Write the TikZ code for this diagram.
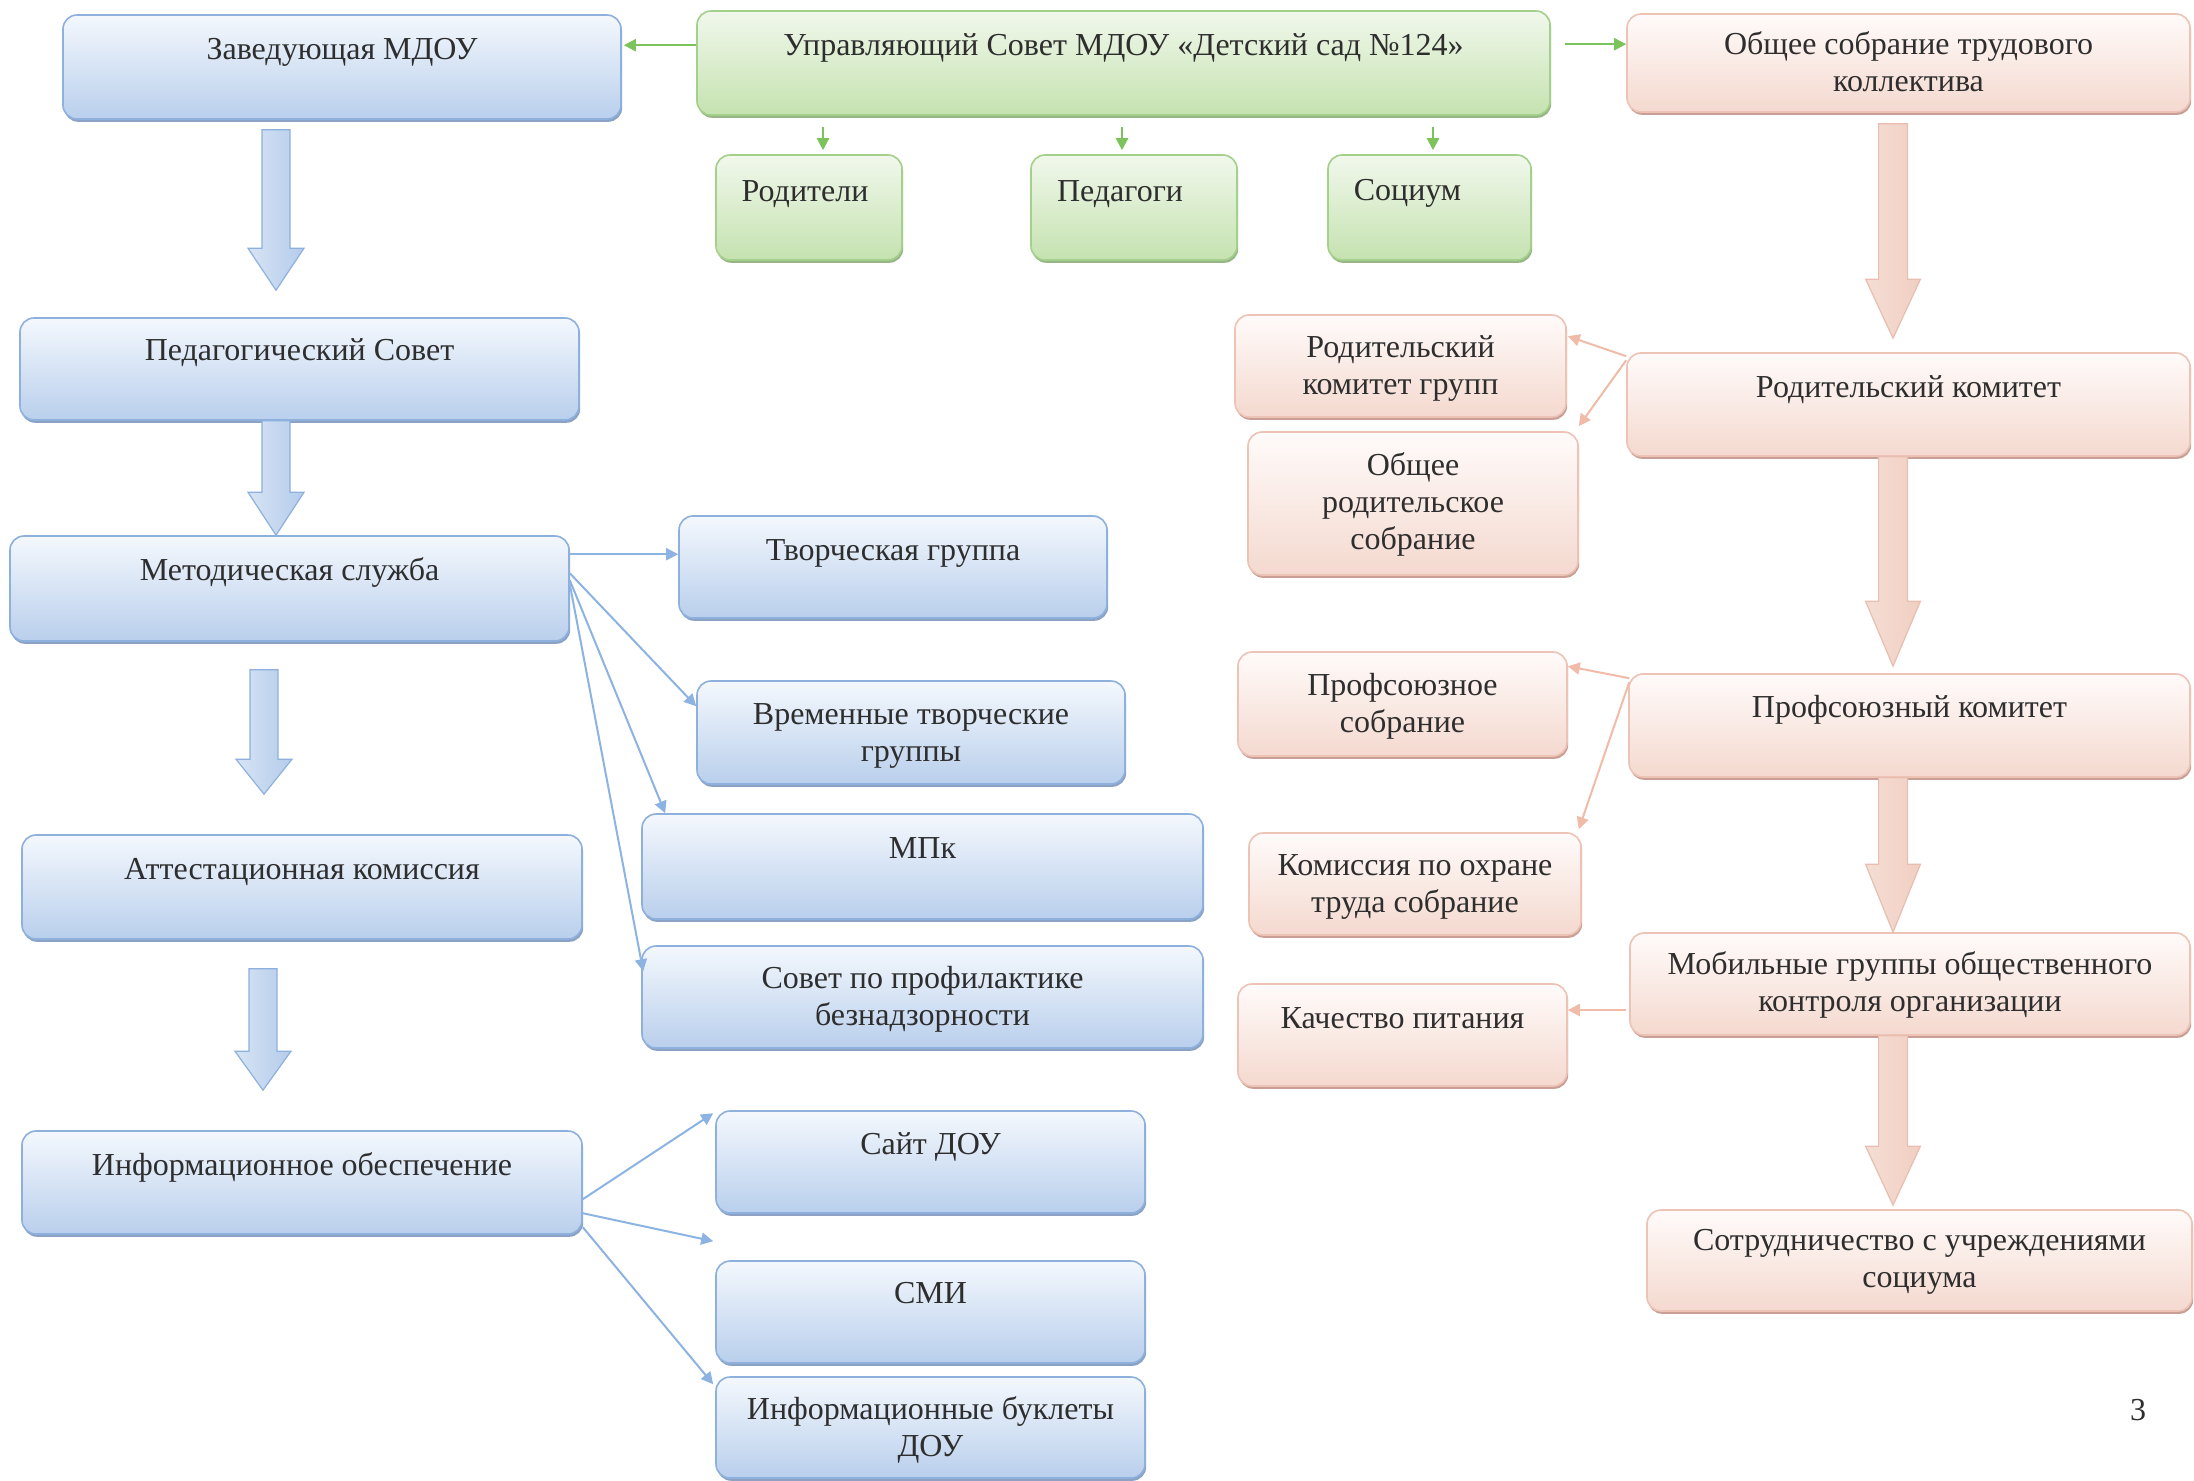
\documentclass[tikz,border=0pt]{standalone}
\usepackage{fontspec}
\setmainfont{Liberation Serif}
\usetikzlibrary{arrows.meta,calc,shadows}
\definecolor{txt}{HTML}{2E2E2E}
\definecolor{bT}{HTML}{F4F8FD}
\definecolor{bB}{HTML}{B9CFEC}
\definecolor{bD}{HTML}{8DB0DD}
\definecolor{bS}{HTML}{7F98BE}
\definecolor{bA}{HTML}{8DB3E2}
\definecolor{gT}{HTML}{F1F8EC}
\definecolor{gB}{HTML}{C5E2B0}
\definecolor{gD}{HTML}{A3D08A}
\definecolor{gS}{HTML}{8DAE7A}
\definecolor{gA}{HTML}{7DC35B}
\definecolor{pT}{HTML}{FFFBFA}
\definecolor{pB}{HTML}{F4D9CF}
\definecolor{pD}{HTML}{ECC3B4}
\definecolor{pS}{HTML}{C4948A}
\definecolor{pA}{HTML}{F0BCA9}
\definecolor{pL}{HTML}{F5DDD4}
\definecolor{pM}{HTML}{FFFAF8}
\definecolor{pR}{HTML}{F1CFC2}
\newcommand{\tx}[1]{\begin{tabular}[t]{@{}c@{}}#1\end{tabular}}
\newcommand{\blk}[6]{\path[#1] let \p1=(#2), \p2=(#3) in (\x1-#4,\y1) -- (\x1+#4,\y1) -- (\x1+#4,\y2+#6) -- (\x1+#5,\y2+#6) -- (\x1,\y2) -- (\x1-#5,\y2+#6) -- (\x1-#4,\y2+#6) -- cycle;}
\begin{document}
\begin{tikzpicture}[x=0.5pt,y=-0.5pt,
 box/.style={rounded corners=7pt, inner sep=0pt, line width=0.8pt, text=txt, text height=12pt, font=\fontsize{16}{18.5}\selectfont},
 bx/.style n args={3}{minimum width=#1*0.5pt, minimum height=#2*0.5pt, text depth=#3pt},
 bluebox/.style={box, draw=bD, top color=bT, bottom color=bB, drop shadow={shadow xshift=0.6pt, shadow yshift=-1.4pt, fill=bS, opacity=0.9}},
 greenbox/.style={box, draw=gD, top color=gT, bottom color=gB, drop shadow={shadow xshift=0.6pt, shadow yshift=-1.4pt, fill=gS, opacity=0.9}},
 pinkbox/.style={box, draw=pD, top color=pT, bottom color=pB, drop shadow={shadow xshift=0.6pt, shadow yshift=-1.4pt, fill=pS, opacity=0.9}},
 barr/.style={draw=bA, line width=1pt, -{Triangle[length=6pt,width=6pt]}},
 garr/.style={draw=gA, line width=1.1pt, -{Triangle[length=6pt,width=6pt]}},
 parr/.style={draw=pA, line width=1pt, -{Triangle[length=6pt,width=6pt]}},
 bblk/.style={draw=bD, line width=0.6pt, left color=bT!50!bB, right color=bB!90!bD},
 pblk/.style={draw=pD!90!pS, line width=0.6pt, left color=pL, middle color=pM, right color=pR},
]
\useasboundingbox (0,0) rectangle (2194,1480);
\fill[white] (0,0) rectangle (2194,1480);

% top row
\node[greenbox, bx={853}{104}{20}] (upr) at (1123.5,63) {\tx{Управляющий Совет МДОУ «Детский сад №124»}};
\node[bluebox, bx={558}{104}{20}] (zav) at (342,67) {\tx{Заведующая МДОУ}};
\node[pinkbox, bx={563}{98}{21}] (obsh) at (1908.5,63) {\tx{Общее собрание трудового\\коллектива}};
\node[greenbox, bx={186}{105}{18.5}] (rod) at (809,207.5) {\tx{Родители\kern4pt}};
\node[greenbox, bx={206}{105}{18.5}] (ped) at (1134,207.5) {\tx{Педагоги\kern14pt}};
\node[greenbox, bx={203}{105}{19.5}] (soc) at (1429.5,207.5) {\tx{Социум\kern22pt}};

% left column
\node[bluebox, bx={559}{102}{21}] (pedsov) at (299.5,369) {\tx{Педагогический Совет}};
\node[bluebox, bx={559}{105}{20.5}] (met) at (289.5,588.5) {\tx{Методическая служба}};
\node[bluebox, bx={560}{104}{20}] (att) at (302,887) {\tx{Аттестационная комиссия}};
\node[bluebox, bx={560}{103}{19.5}] (inf) at (302,1182.5) {\tx{Информационное обеспечение}};

% middle column
\node[bluebox, bx={428}{102}{19}] (tvor) at (893,567) {\tx{Творческая группа}};
\node[bluebox, bx={428}{103}{20.5}] (vrem) at (911,732.5) {\tx{Временные творческие\\группы}};
\node[bluebox, bx={561}{105}{20.5}] (mpk) at (922.5,866.5) {\tx{МПк}};
\node[bluebox, bx={561}{102}{21}] (sovet) at (922.5,997) {\tx{Совет по профилактике\\безнадзорности}};
\node[bluebox, bx={429}{102}{20}] (sait) at (930.5,1162) {\tx{Сайт ДОУ}};
\node[bluebox, bx={429}{102}{21}] (smi) at (930.5,1312) {\tx{СМИ}};
\node[bluebox, bx={429}{101}{20.5}] (bukl) at (930.5,1427.5) {\tx{Информационные буклеты\\ДОУ}};

% right column
\node[pinkbox, bx={563}{103}{19.5}] (rodkom) at (1908.5,404.5) {\tx{Родительский комитет}};
\node[pinkbox, bx={561}{103}{20.5}] (prof) at (1909.5,725.5) {\tx{Профсоюзный комитет}};
\node[pinkbox, bx={560}{102}{22}] (mob) at (1910,984) {\tx{Мобильные группы общественного\\контроля организации}};
\node[pinkbox, bx={545}{101}{22.5}] (sotr) at (1919.5,1260.5) {\tx{Сотрудничество с учреждениями\\социума}};
\node[pinkbox, bx={331}{102}{21}] (rkg) at (1400.5,366) {\tx{Родительский\\комитет групп}};
\node[pinkbox, bx={330}{143}{40.5}] (ors) at (1413,503.5) {\tx{Общее\\родительское\\собрание}};
\node[pinkbox, bx={329}{104}{21}] (profs) at (1402.5,704) {\tx{Профсоюзное\\собрание}};
\node[pinkbox, bx={332}{102}{21}] (kom) at (1415,884) {\tx{Комиссия по охране\\труда собрание}};
\node[pinkbox, bx={329}{102}{19}] (kach) at (1402.5,1035) {\tx{Качество питания}};

\node[text=txt, font=\fontsize{16}{18.5}\selectfont] (pg) at (2138,1410) {3};

% block arrows (blue)
\coordinate (b1s) at ($(zav.south)+(-66,10)$);
\coordinate (b1e) at ($(pedsov.north)+(-23.5,-27)$);
\coordinate (b2s) at ($(pedsov.south)+(-23.5,0)$);
\coordinate (b2e) at ($(met.north)+(-13.5,0)$);
\coordinate (b3s) at ($(met.south)+(-25.5,28)$);
\coordinate (b3e) at ($(att.north)+(-38,-40)$);
\coordinate (b4s) at ($(att.south)+(-39,29)$);
\coordinate (b4e) at ($(inf.north)+(-39,-40)$);
\blk{bblk}{b1s}{b1e}{7pt}{14pt}{21pt}
\blk{bblk}{b2s}{b2e}{7pt}{14pt}{21.5pt}
\blk{bblk}{b3s}{b3e}{7pt}{14pt}{17.5pt}
\blk{bblk}{b4s}{b4e}{7pt}{14pt}{19.5pt}

% block arrows (pink)
\coordinate (p1s) at ($(obsh.south)+(-15.5,11)$);
\coordinate (p1e) at ($(rodkom.north)+(-15.5,-14)$);
\coordinate (p2s) at ($(rodkom.south)+(-15.5,0)$);
\coordinate (p2e) at ($(prof.north)+(-16.5,-7)$);
\coordinate (p3s) at ($(prof.south)+(-16.5,0)$);
\coordinate (p3e) at ($(mob.north)+(-17,0)$);
\coordinate (p4s) at ($(mob.south)+(-17,0)$);
\coordinate (p4e) at ($(sotr.north)+(-26.5,-4)$);
\blk{pblk}{p1s}{p1e}{7.2pt}{13.7pt}{29.5pt}
\blk{pblk}{p2s}{p2e}{7.2pt}{13.7pt}{32.5pt}
\blk{pblk}{p3s}{p3e}{7.2pt}{13.7pt}{34pt}
\blk{pblk}{p4s}{p4e}{7.2pt}{13.7pt}{29.5pt}

% green connectors
\draw[garr] ($(upr.north west)+(0,35)$) -- ($(zav.north east)+(2,31)$);
\draw[garr] ($(upr.north east)+(14,34)$) -- ($(obsh.north west)+(0,31)$);
\draw[garr] ($(upr.south -| rod.north)+(14,11)$) -- ($(rod.north)+(14,-4)$);
\draw[garr] ($(upr.south -| ped.north)+(-12,11)$) -- ($(ped.north)+(-12,-4)$);
\draw[garr] ($(upr.south -| soc.north)+(3.5,11)$) -- ($(soc.north)+(3.5,-4)$);

% blue connectors
\draw[barr] ($(met.north east)+(0,19)$) -- ($(tvor.north west)+(0,39)$);
\draw[barr] ($(met.north east)+(0,38)$) -- ($(vrem.north west)+(0,26)$);
\draw[barr] ($(met.north east)+(0,45)$) -- ($(mpk.north west)+(24,0)$);
\draw[barr] ($(met.north east)+(0,49)$) -- ($(sovet.north west)+(2,26)$);
\draw[barr] ($(inf.north east)+(0,69)$) -- ($(sait.north west)+(-2,3)$);
\draw[barr] ($(inf.north east)+(0,83)$) -- ($(smi.north west)+(-2,-19)$);
\draw[barr] ($(inf.north east)+(0,97)$) -- ($(bukl.north west)+(-2,8)$);

% pink connectors
\draw[parr] ($(rodkom.north west)+(0,4)$) -- ($(rkg.north east)+(1,22)$);
\draw[parr] ($(rodkom.north west)+(0,8)$) -- ($(ors.north east)+(0,-5)$);
\draw[parr] ($(prof.north west)+(1,5)$) -- ($(profs.north east)+(0,15)$);
\draw[parr] ($(prof.north west)+(1,9)$) -- ($(kom.north east)+(-3,-3)$);
\draw[parr] ($(mob.west)+(-3,26)$) -- ($(kach.east)+(0,-25)$);
\end{tikzpicture}
\end{document}
